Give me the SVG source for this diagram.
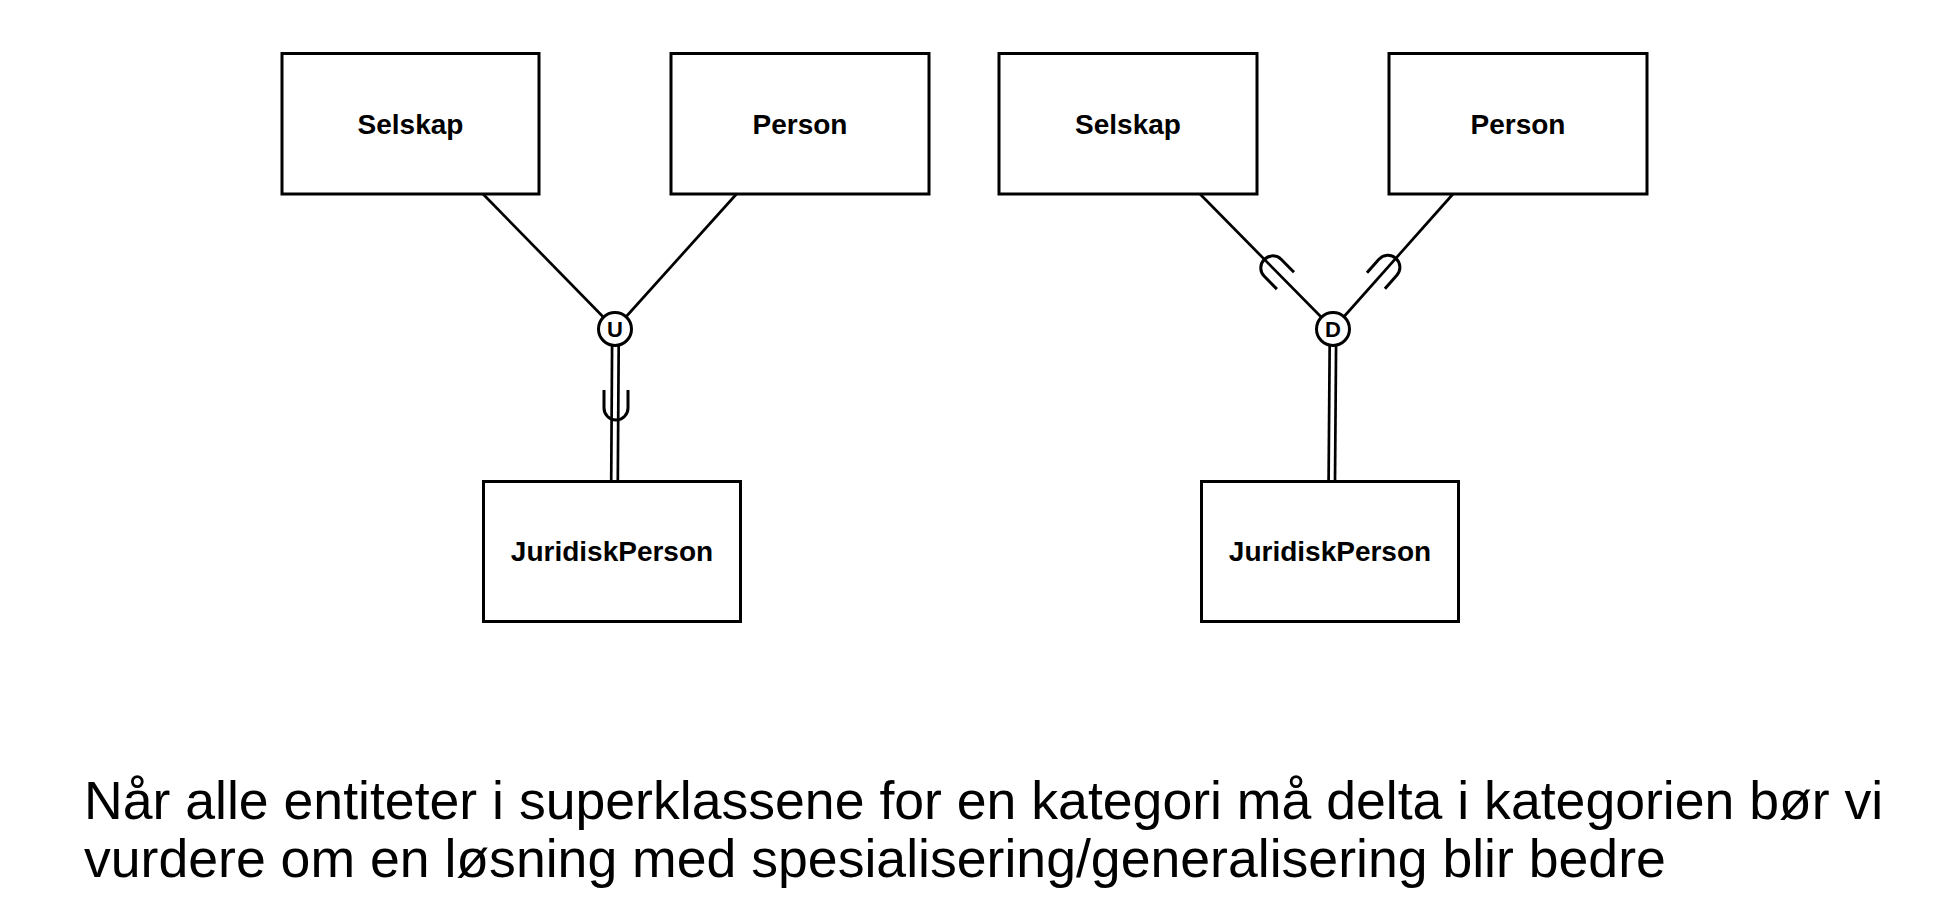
<svg xmlns="http://www.w3.org/2000/svg" width="1934" height="914" viewBox="0 0 1934 914">
<style>
.box{fill:#fff;stroke:#000;stroke-width:3}
.lbl{font-family:"Liberation Sans",Arial,Helvetica,sans-serif;font-weight:bold;font-size:28px;text-anchor:middle;fill:#000}
.circ{fill:#fff;stroke:#000;stroke-width:3}
.sym{font-family:"Liberation Sans",Arial,Helvetica,sans-serif;font-weight:bold;font-size:22px;text-anchor:middle;fill:#000}
.ln{fill:none;stroke:#000;stroke-width:2.7}
.sub{fill:none;stroke:#000;stroke-width:3}
.cap{font-family:"Liberation Sans",Arial,Helvetica,sans-serif;font-size:53.6px;fill:#000}
</style>
<defs>
<path id="subset" class="sub" d="M -12 -15 V 3 A 12 12 0 0 0 12 3 V -15"/>
</defs>
<rect width="1934" height="914" fill="#fff"/>
<g id="connectors">
<line class="ln" x1="483" y1="194" x2="615" y2="329"/>
<line class="ln" x1="736.5" y1="194" x2="615" y2="329"/>
<line class="ln" x1="612.2" y1="329" x2="611.2" y2="481"/>
<line class="ln" x1="618.8" y1="329" x2="617.8" y2="481"/>
<use href="#subset" transform="translate(616,405)"/>
<line class="ln" x1="1200" y1="194" x2="1333" y2="329"/>
<line class="ln" x1="1453" y1="194" x2="1333" y2="329"/>
<line class="ln" x1="1329.8" y1="329" x2="1328.6" y2="481"/>
<line class="ln" x1="1336.2" y1="329" x2="1335" y2="481"/>
<use href="#subset" transform="translate(1274.9,270) rotate(135.4)"/>
<use href="#subset" transform="translate(1385.9,269.5) rotate(-138.4)"/>
</g>
<g id="left-selskap">
<rect class="box" x="282" y="53.5" width="257" height="140.5"/>
<text class="lbl" x="410.5" y="134">Selskap</text>
</g>
<g id="left-person">
<rect class="box" x="671" y="53.5" width="258" height="140.5"/>
<text class="lbl" x="800" y="134">Person</text>
</g>
<g id="left-union">
<circle class="circ" cx="615" cy="329" r="16.5"/>
<text class="sym" x="615" y="337">U</text>
</g>
<g id="left-juridiskperson">
<rect class="box" x="483.5" y="481.5" width="257" height="140"/>
<text class="lbl" x="612" y="561">JuridiskPerson</text>
</g>
<g id="right-selskap">
<rect class="box" x="999" y="53.5" width="258" height="140.5"/>
<text class="lbl" x="1128" y="134">Selskap</text>
</g>
<g id="right-person">
<rect class="box" x="1389" y="53.5" width="258" height="140.5"/>
<text class="lbl" x="1518" y="134">Person</text>
</g>
<g id="right-disjoint">
<circle class="circ" cx="1333" cy="329" r="16.5"/>
<text class="sym" x="1333" y="337">D</text>
</g>
<g id="right-juridiskperson">
<rect class="box" x="1201.5" y="481.5" width="257" height="140"/>
<text class="lbl" x="1330" y="561">JuridiskPerson</text>
</g>
<g id="caption">
<text class="cap" x="84" y="819">Når alle entiteter i superklassene for en kategori må delta i kategorien bør vi</text>
<text class="cap" x="84" y="877">vurdere om en løsning med spesialisering/generalisering blir bedre</text>
</g>
</svg>
